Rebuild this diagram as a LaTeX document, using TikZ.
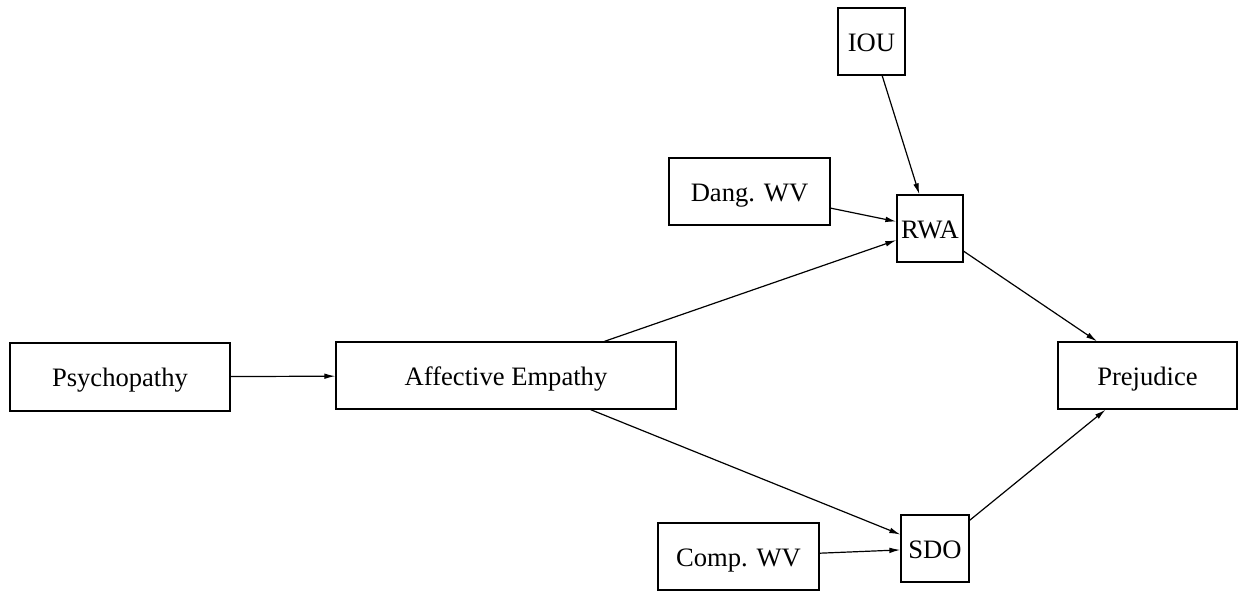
\documentclass[tikz,border=0pt]{standalone}
\usepackage{fontspec}
\setmainfont{Liberation Serif}
\usetikzlibrary{arrows.meta}
\begin{document}
\begin{tikzpicture}[x=0.5pt,y=-0.5pt,
  box/.style={draw,line width=0.65pt,inner sep=0pt,minimum height=33.5pt,
    text height=12.5pt,text depth=3pt,font=\fontsize{13.3}{16}\selectfont},
  link/.style={-{Latex[length=5.5pt,width=2.8pt]},line width=0.6pt}]
\useasboundingbox (0,0) rectangle (1238,590);
\node[box,minimum width=33.5pt] (iou) at (871.5,41.5) {IOU};
\node[box,minimum width=80.5pt] (dang) at (749.5,191.5) {Dang. WV};
\node[box,minimum width=33pt] (rwa) at (930,228.5) {RWA};
\node[box,minimum width=110pt,minimum height=34pt] (psy) at (120,377) {Psychopathy};
\node[box,minimum width=170pt] (aff) at (506,375.5) {Affective Empathy};
\node[box,minimum width=89.5pt] (prej) at (1147.5,375.5) {Prejudice};
\node[box,minimum width=80.5pt] (comp) at (738.5,556.5) {Comp. WV};
\node[box,minimum width=34pt] (sdo) at (935,548.5) {SDO};

\draw[link] (psy) -- (aff);
\draw[link] (iou) -- (rwa);
\draw[link] (dang) -- (rwa);
\draw[link] (aff) -- (rwa);
\draw[link] (aff) -- (sdo);
\draw[link] (comp) -- (sdo);
\draw[link] (rwa) -- (prej);
\draw[link] (sdo) -- (prej);
\end{tikzpicture}
\end{document}
